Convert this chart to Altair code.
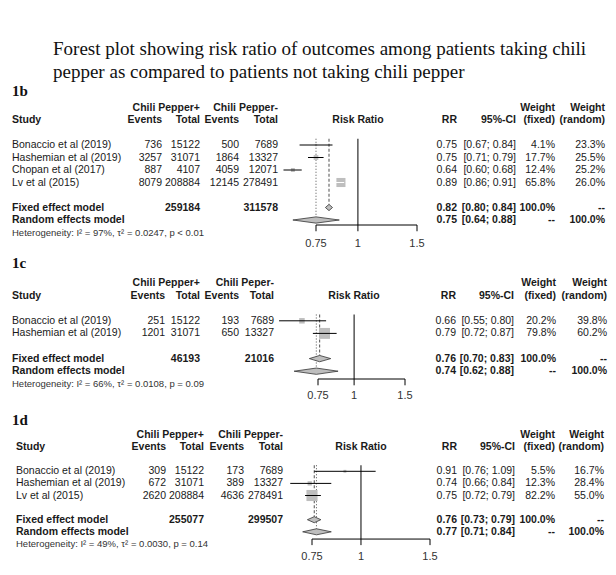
import altair as alt
import pandas as pd
import numpy as np

SANS = "Liberation Sans"
SERIF = "Liberation Serif"

TITLE = ["Forest plot showing risk ratio of outcomes among patients taking chili",
         "pepper as compared to patients not taking chili pepper"]
AXIS_TICKS = [0.75, 1, 1.5]
AXIS_LABELS = ["0.75", "1", "1.5"]

# ---------------- 1b ----------------
b_study = ["Bonaccio et al (2019)", "Hashemian et al (2019)", "Chopan et al (2017)", "Lv et al (2015)"]
b_ev_pos = [736, 3257, 887, 8079]
b_tot_pos = [15122, 31071, 4107, 208884]
b_ev_neg = [500, 1864, 4059, 12145]
b_tot_neg = [7689, 13327, 12071, 278491]
b_rr = [0.75, 0.75, 0.64, 0.89]
b_lo = [0.67, 0.71, 0.60, 0.86]
b_hi = [0.84, 0.79, 0.68, 0.91]
b_wf = [4.1, 17.7, 12.4, 65.8]
b_wr = [23.3, 25.5, 25.2, 26.0]
b_fixed = [0.82, 0.80, 0.84]
b_random = [0.75, 0.64, 0.88]
b_totals = [259184, 311578]
b_groups = ["Chili Pepper+", "Chili Pepper-"]
b_het = "Heterogeneity: I² = 97%, τ² = 0.0247, p < 0.01"

# ---------------- 1c ----------------
c_study = ["Bonaccio et al (2019)", "Hashemian et al (2019)"]
c_ev_pos = [251, 1201]
c_tot_pos = [15122, 31071]
c_ev_neg = [193, 650]
c_tot_neg = [7689, 13327]
c_rr = [0.66, 0.79]
c_lo = [0.55, 0.72]
c_hi = [0.80, 0.87]
c_wf = [20.2, 79.8]
c_wr = [39.8, 60.2]
c_fixed = [0.76, 0.70, 0.83]
c_random = [0.74, 0.62, 0.88]
c_totals = [46193, 21016]
c_groups = ["Chili Pepper+", "Chili Peper-"]
c_het = "Heterogeneity: I² = 66%, τ² = 0.0108, p = 0.09"

# ---------------- 1d ----------------
d_study = ["Bonaccio et al (2019)", "Hashemian et al (2019)", "Lv et al (2015)"]
d_ev_pos = [309, 672, 2620]
d_tot_pos = [15122, 31071, 208884]
d_ev_neg = [173, 389, 4636]
d_tot_neg = [7689, 13327, 278491]
d_rr = [0.91, 0.74, 0.75]
d_lo = [0.76, 0.66, 0.72]
d_hi = [1.09, 0.84, 0.79]
d_wf = [5.5, 12.3, 82.2]
d_wr = [16.7, 28.4, 55.0]
d_fixed = [0.76, 0.73, 0.79]
d_random = [0.77, 0.71, 0.84]
d_totals = [255077, 299507]
d_groups = ["Chili Pepper+", "Chili Pepper-"]
d_het = "Heterogeneity: I² = 49%, τ² = 0.0030, p = 0.14"

panels = [
    dict(label="1b", study=b_study, ev_pos=b_ev_pos, tot_pos=b_tot_pos, ev_neg=b_ev_neg, tot_neg=b_tot_neg,
         rr=b_rr, lo=b_lo, hi=b_hi, wf=b_wf, wr=b_wr, fixed=b_fixed, random=b_random, totals=b_totals,
         groups=b_groups, het=b_het),
    dict(label="1c", study=c_study, ev_pos=c_ev_pos, tot_pos=c_tot_pos, ev_neg=c_ev_neg, tot_neg=c_tot_neg,
         rr=c_rr, lo=c_lo, hi=c_hi, wf=c_wf, wr=c_wr, fixed=c_fixed, random=c_random, totals=c_totals,
         groups=c_groups, het=c_het),
    dict(label="1d", study=d_study, ev_pos=d_ev_pos, tot_pos=d_tot_pos, ev_neg=d_ev_neg, tot_neg=d_tot_neg,
         rr=d_rr, lo=d_lo, hi=d_hi, wf=d_wf, wr=d_wr, fixed=d_fixed, random=d_random, totals=d_totals,
         groups=d_groups, het=d_het),
]

# layout (page pixels)
LAYOUT = {
    "1b": dict(label_y=96, y0=107.5, unit=12.5, axis_row=9.4, lab_row=10.9, fx=(316, 417), maxA=125,
               cols=dict(study=12, ep=162, tp=200, en=239, tn=278, rrh=358, rr=457, ci=516, wf=555, wr=605)),
    "1c": dict(label_y=268, y0=283, unit=12.6, axis_row=7.62, lab_row=8.97, fx=(318, 405), maxA=150,
               cols=dict(study=12, ep=165, tp=200, en=239, tn=274, rrh=354, rr=456, ci=514, wf=556, wr=607)),
    "1d": dict(label_y=425, y0=435, unit=12.1, axis_row=8.6, lab_row=10.08, fx=(312, 430), maxA=150,
               cols=dict(study=16, ep=166, tp=204, en=244, tn=283, rrh=361, rr=457, ci=515, wf=555, wr=604)),
}
M = 8  # page margin
TXT = "#1a1a1a"
GRAY = "#bebebe"
FS = 10.5

layers = []

# title
layers.append(
    alt.Chart(pd.DataFrame({"t": ["\n".join(TITLE)]})).mark_text(
        align="left", baseline="alphabetic", font=SERIF, fontSize=19, lineHeight=22.5,
        lineBreak="\n", color="#111").encode(
        x=alt.value(53 - M), y=alt.value(55 - M), text="t:N")
)


def add_text(cells, ysc):
    df = pd.DataFrame(cells)
    for key, g in df.groupby(["x", "align", "bold", "size", "color"], sort=False):
        x, align, bold, size, color = key
        layers.append(
            alt.Chart(g[["row", "t"]].reset_index(drop=True)).mark_text(
                align=align, baseline="middle", font=SANS, fontSize=float(size),
                fontWeight="bold" if bold else "normal", color=color).encode(
                x=alt.value(float(x) - M),
                y=alt.Y("row:Q", scale=ysc, axis=None),
                text="t:N")
        )


for p in panels:
    L = LAYOUT[p["label"]]
    C = L["cols"]
    n = len(p["study"])
    srows = [3 + i for i in range(n)]
    frow = 3 + n + 1
    rrow = frow + 1
    hrow = rrow + 1
    top = L["y0"] - M
    ysc = alt.Scale(domain=[0, 12], range=[top, top + 12 * L["unit"]], zero=False, nice=False)
    xsc = alt.Scale(type="log", domain=[0.75, 1.5], range=[L["fx"][0] - M, L["fx"][1] - M], nice=False)

    # panel label
    layers.append(
        alt.Chart(pd.DataFrame({"t": [p["label"]]})).mark_text(
            align="left", baseline="alphabetic", font=SERIF, fontSize=15, fontWeight="bold",
            color="#111").encode(x=alt.value(12 - M), y=alt.value(L["label_y"] - M), text="t:N")
    )

    cells = []

    def cell(row, col, t, align="right", bold=False, size=FS, color=TXT):
        cells.append(dict(row=row, x=C[col], align=align, bold=bold, size=size, color=color, t=t))

    # headers
    cell(0, "tp", p["groups"][0], bold=True)
    cell(0, "tn", p["groups"][1], bold=True)
    cell(0, "wf", "Weight", bold=True)
    cell(0, "wr", "Weight", bold=True)
    cell(1, "study", "Study", align="left", bold=True)
    cell(1, "ep", "Events", bold=True)
    cell(1, "tp", "Total", bold=True)
    cell(1, "en", "Events", bold=True)
    cell(1, "tn", "Total", bold=True)
    cell(1, "rrh", "Risk Ratio", align="center", bold=True)
    cell(1, "rr", "RR", bold=True)
    cell(1, "ci", "95%-CI", bold=True)
    cell(1, "wf", "(fixed)", bold=True)
    cell(1, "wr", "(random)", bold=True)
    # studies
    for i, r in enumerate(srows):
        cell(r, "study", p["study"][i], align="left")
        cell(r, "ep", str(p["ev_pos"][i]))
        cell(r, "tp", str(p["tot_pos"][i]))
        cell(r, "en", str(p["ev_neg"][i]))
        cell(r, "tn", str(p["tot_neg"][i]))
        cell(r, "rr", f"{p['rr'][i]:.2f}")
        cell(r, "ci", f"[{p['lo'][i]:.2f}; {p['hi'][i]:.2f}]")
        cell(r, "wf", f"{p['wf'][i]:.1f}%")
        cell(r, "wr", f"{p['wr'][i]:.1f}%")
    # fixed
    fe, fl, fh = p["fixed"]
    cell(frow, "study", "Fixed effect model", align="left", bold=True)
    cell(frow, "tp", str(p["totals"][0]), bold=True)
    cell(frow, "tn", str(p["totals"][1]), bold=True)
    cell(frow, "rr", f"{fe:.2f}", bold=True)
    cell(frow, "ci", f"[{fl:.2f}; {fh:.2f}]", bold=True)
    cell(frow, "wf", "100.0%", bold=True)
    cell(frow, "wr", "--", bold=True)
    # random
    re_, rl, rh = p["random"]
    cell(rrow, "study", "Random effects model", align="left", bold=True)
    cell(rrow, "rr", f"{re_:.2f}", bold=True)
    cell(rrow, "ci", f"[{rl:.2f}; {rh:.2f}]", bold=True)
    cell(rrow, "wf", "--", bold=True)
    cell(rrow, "wr", "100.0%", bold=True)
    # heterogeneity
    cell(hrow, "study", p["het"], align="left", size=9.5, color="#333333")
    add_text(cells, ysc)

    X = lambda f: alt.X(f, scale=xsc, axis=None)
    Y = lambda f: alt.Y(f, scale=ysc, axis=None)

    # reference lines
    ref = pd.DataFrame({"v": [1.0], "r0": [2.5], "r1": [L["axis_row"]]})
    layers.append(alt.Chart(ref).mark_rule(color="black", strokeWidth=1).encode(
        x=X("v:Q"), y=Y("r0:Q"), y2="r1:Q"))
    fl_df = pd.DataFrame({"v": [fe], "r0": [2.5], "r1": [frow - 0.25]})
    layers.append(alt.Chart(fl_df).mark_rule(color="#222", strokeWidth=0.8, strokeDash=[3, 2]).encode(
        x=X("v:Q"), y=Y("r0:Q"), y2="r1:Q"))
    rl_df = pd.DataFrame({"v": [re_], "r0": [2.5], "r1": [rrow - 0.25]})
    layers.append(alt.Chart(rl_df).mark_rule(color="#222", strokeWidth=0.8, strokeDash=[1, 2]).encode(
        x=X("v:Q"), y=Y("r0:Q"), y2="r1:Q"))

    # squares
    sq = pd.DataFrame({"v": p["rr"], "row": srows, "w": p["wf"]})
    layers.append(alt.Chart(sq).mark_square(filled=True, color=GRAY, opacity=1).encode(
        x=X("v:Q"), y=Y("row:Q"),
        size=alt.Size("w:Q", scale=alt.Scale(domain=[0, 100], range=[0, L["maxA"]]), legend=None)))

    # CI lines (white when inside square)
    k = (L["fx"][1] - L["fx"][0]) / np.log(2.0)
    cols = []
    for i in range(n):
        span = (np.log(p["hi"][i]) - np.log(p["lo"][i])) * k
        side = np.sqrt(p["wf"][i] / 100 * L["maxA"])
        cols.append("white" if span <= side else "black")
    ci = pd.DataFrame({"lo": p["lo"], "hi": p["hi"], "row": srows, "c": cols})
    layers.append(alt.Chart(ci).mark_rule(strokeWidth=1).encode(
        x=X("lo:Q"), x2="hi:Q", y=Y("row:Q"), color=alt.Color("c:N", scale=None)))

    # diamonds
    for (est, lo, hi), row in ((p["fixed"], frow), (p["random"], rrow)):
        h = 0.25
        dm = pd.DataFrame({"v": [lo, est, hi], "a": [row, row - h, row], "b": [row, row + h, row]})
        layers.append(alt.Chart(dm).mark_area(fill=GRAY, stroke="#333", strokeWidth=0.8, opacity=1).encode(
            x=X("v:Q"), y=alt.Y("a:Q", scale=ysc, axis=None, stack=None), y2="b:Q"))

    # axis
    ax = pd.DataFrame({"a": [AXIS_TICKS[0]], "b": [AXIS_TICKS[-1]], "r": [L["axis_row"]]})
    layers.append(alt.Chart(ax).mark_rule(color="black", strokeWidth=1).encode(
        x=X("a:Q"), x2="b:Q", y=Y("r:Q")))
    tk = pd.DataFrame({"v": AXIS_TICKS, "r0": [L["axis_row"]] * 3, "r1": [L["axis_row"] + 0.5] * 3,
                       "lab": AXIS_LABELS, "rl": [L["lab_row"]] * 3})
    layers.append(alt.Chart(tk).mark_rule(color="black", strokeWidth=1).encode(
        x=X("v:Q"), y=Y("r0:Q"), y2="r1:Q"))
    layers.append(alt.Chart(tk).mark_text(font=SANS, fontSize=11, color="#333", baseline="middle",
                                          align="center").encode(
        x=X("v:Q"), y=Y("rl:Q"), text="lab:N"))

chart = alt.layer(*layers).resolve_scale(
    x="independent", y="independent", size="independent", color="independent"
).properties(
    width=600, height=559, autosize="none", padding=0, background="white"
).configure_view(stroke=None)

chart.save("out.html", embed_options={"renderer": "svg", "actions": False})
